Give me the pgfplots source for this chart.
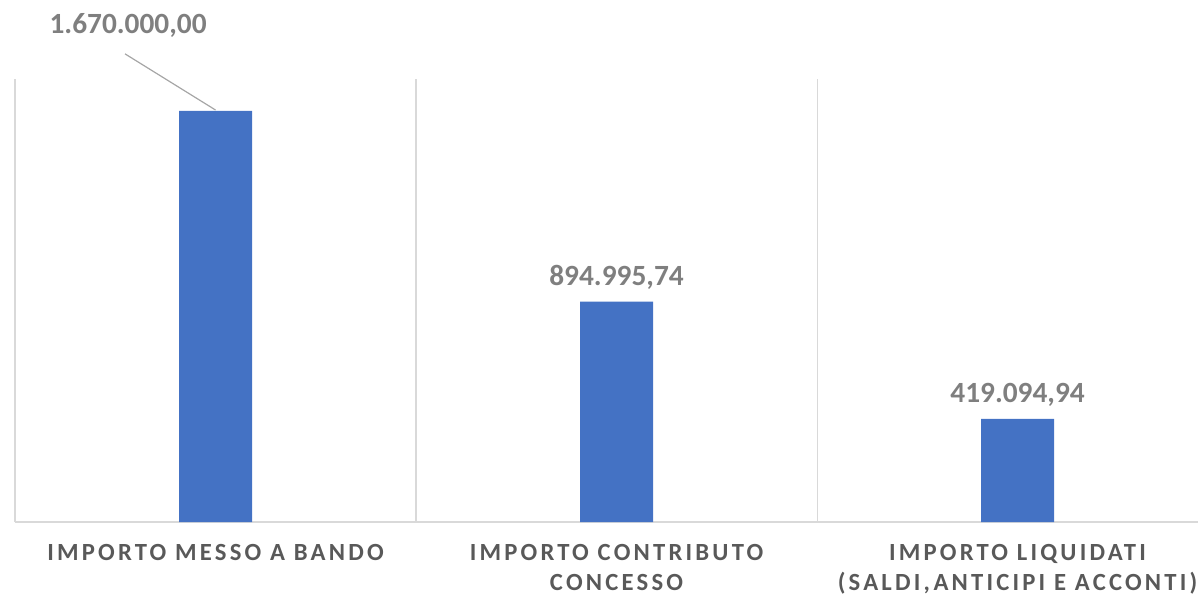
\documentclass[border=0pt]{standalone}
\usepackage{pgfplots}
\pgfplotsset{compat=1.18}
\usepackage{fontspec}
\setmainfont{Carlito}
\newfontfamily\catfont{Carlito}[LetterSpace=13]
\definecolor{barblue}{HTML}{4472C4}
\definecolor{valgray}{HTML}{7F7F7F}
\definecolor{catgray}{HTML}{595959}
\definecolor{gridgray}{HTML}{D9D9D9}
\definecolor{leadgray}{HTML}{A6A6A6}
\begin{document}
\begin{tikzpicture}
% picture frame: 1198x597 px at 0.75pt per px
\useasboundingbox (-11.25pt,-56.25pt) rectangle (887.25pt,391.5pt);
\begin{axis}[
  at={(0,0)}, anchor=south west,
  scale only axis, width=887.25pt, height=332.25pt,
  xmin=-0.5, xmax=2.45, ymin=0, ymax=1800000,
  axis x line*=bottom, axis y line=none,
  x axis line style={gridgray, line width=1.1pt},
  xtick={0,1,2}, major tick length=0pt,
  xticklabels={{IMPORTO MESSO A BANDO},{IMPORTO CONTRIBUTO\\CONCESSO},{IMPORTO LIQUIDATI\\(SALDI,ANTICIPI E ACCONTI)}},
  x tick label style={font=\catfont\fontsize{18.5}{22.5}\selectfont\bfseries, text=catgray, align=center, yshift=-13pt},
  minor xtick={-0.5,0.5,1.5}, xminorgrids=true,
  minor x grid style={gridgray, line width=0.8pt},
  minor tick length=0pt,
  clip=false,
  ybar, bar width=54.75pt,
  point meta=explicit symbolic,
  nodes near coords,
  nodes near coords style={font=\fontsize{22}{26}\selectfont\bfseries, text=valgray, anchor=base, yshift=12pt},
]
\addplot[fill=barblue, draw=none] table[meta=lab] {
x y lab
0 1670000 {}
1 894995.74 894.995,74
2 419094.94 419.094,94
};
\draw[leadgray, line width=0.9pt] (axis cs:-0.2257,1902195) -- (axis cs:0,1674073);
\node[font=\fontsize{22}{26}\selectfont\bfseries, text=valgray, anchor=base] at (axis cs:-0.218,1983600) {1.670.000,00};
\end{axis}
\end{tikzpicture}
\end{document}
